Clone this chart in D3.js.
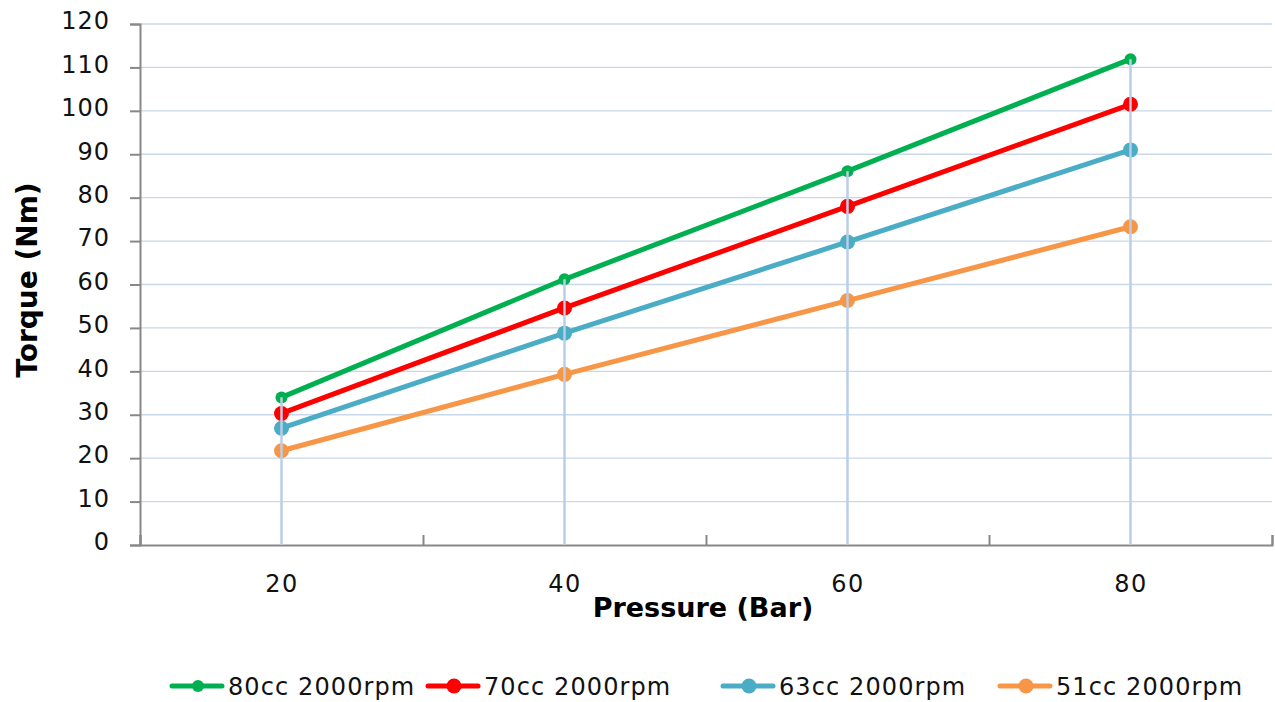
<!DOCTYPE html>
<html><head><meta charset="utf-8">
<script src="https://cdn.jsdelivr.net/npm/d3@7"></script>
<style>body{margin:0;background:#fff;}svg{display:block;font-family:"DejaVu Sans",sans-serif;}</style>
</head><body><svg id="c" width="1275" height="702"></svg>
<script>
const pressures = [20, 40, 60, 80];
const seriesNames = ["80cc 2000rpm", "70cc 2000rpm", "63cc 2000rpm", "51cc 2000rpm"];
const s80 = [34, 61.2, 86.1, 111.9];
const s70 = [30.3, 54.6, 78, 101.5];
const s63 = [26.9, 48.8, 69.8, 91];
const s51 = [21.7, 39.3, 56.3, 73.3];
const colors = ["#00b050", "#ff0000", "#4bacc6", "#f79646"];
const yTicks = [0,10,20,30,40,50,60,70,80,90,100,110,120];
const xMinorTicks = [10,30,50,70,90];

const series = [s80, s70, s63, s51].map((v,i)=>({name:seriesNames[i], values:v, color:colors[i], r: i===0?6:7.5}));

const svg = d3.select("#c");
const x = d3.scaleLinear().domain([10,90]).range([140,1272]);
const y = d3.scaleLinear().domain([0,120]).range([545,24]);
const FONT = '"DejaVu Sans", sans-serif';

// horizontal gridlines
svg.append("g").selectAll("line").data(yTicks.filter(d=>d>0)).join("line")
  .attr("x1",140).attr("x2",1272).attr("y1",d=>y(d)).attr("y2",d=>y(d))
  .attr("stroke","#c9d7ea").attr("stroke-width",1.3);

// y axis
const ya = svg.append("g").attr("transform","translate(140,0)")
  .call(d3.axisLeft(y).tickValues(yTicks).tickSize(10).tickPadding(20));
ya.attr("font-family",FONT).attr("font-size",null);
ya.select(".domain").attr("stroke","#888").attr("stroke-width",2);
ya.selectAll(".tick line").attr("stroke","#888").attr("stroke-width",2);
ya.selectAll("text").style("font-size","24px").style("letter-spacing","1px").attr("fill","#111").attr("dy","0.2em");

// x axis
const xa = svg.append("g").attr("transform","translate(0,545)")
  .call(d3.axisBottom(x).tickValues(xMinorTicks).tickSize(-10).tickFormat(""));
xa.select(".domain").attr("stroke","#888").attr("stroke-width",2);
xa.selectAll(".tick line").attr("stroke","#888").attr("stroke-width",2);
const xl = svg.append("g").attr("transform","translate(0,545)")
  .call(d3.axisBottom(x).tickValues(pressures).tickSize(0).tickPadding(30));
xl.attr("font-family",FONT).attr("font-size",null);
xl.select(".domain").remove();
xl.selectAll("text").style("font-size","24px").style("letter-spacing","1.5px").attr("fill","#111");

// titles
svg.append("text").attr("x",703).attr("y",617).attr("text-anchor","middle")
  .style("font-size","27px").attr("font-weight","bold").attr("fill","#000").text("Pressure (Bar)");
svg.append("text").attr("transform","translate(37,280) rotate(-90)").attr("text-anchor","middle")
  .style("font-size","28px").attr("font-weight","bold").attr("fill","#000").text("Torque (Nm)");

// lines
const line = d3.line().x((d,i)=>x(pressures[i])).y(d=>y(d));
const g = svg.append("g");
series.forEach(s=>{
  g.append("path").attr("d",line(s.values)).attr("fill","none").attr("stroke",s.color).attr("stroke-width",5);
  g.selectAll(null).data(s.values).join("circle")
    .attr("cx",(d,i)=>x(pressures[i])).attr("cy",d=>y(d)).attr("r",s.r).attr("fill",s.color);
});

// drop lines (drawn over the markers)
svg.append("g").selectAll("line").data(pressures).join("line")
  .attr("x1",d=>x(d)).attr("x2",d=>x(d))
  .attr("y1",(d,i)=>y(d3.max(series,s=>s.values[i]))).attr("y2",y(0))
  .attr("stroke","#bccde6").attr("stroke-width",2.5);

// legend
const legX = [172, 428, 723, 1000];
const lg = svg.append("g");
series.forEach((s,i)=>{
  const gg = lg.append("g").attr("transform",`translate(${legX[i]},686)`);
  gg.append("line").attr("x1",0).attr("x2",50).attr("stroke",s.color).attr("stroke-width",5).attr("stroke-linecap","round");
  gg.append("circle").attr("cx",26).attr("r",s.r).attr("fill",s.color);
  gg.append("text").attr("x",56).attr("y",9).style("font-size","24px").style("letter-spacing","1.1px").attr("fill","#111").text(s.name);
});
</script></body></html>
